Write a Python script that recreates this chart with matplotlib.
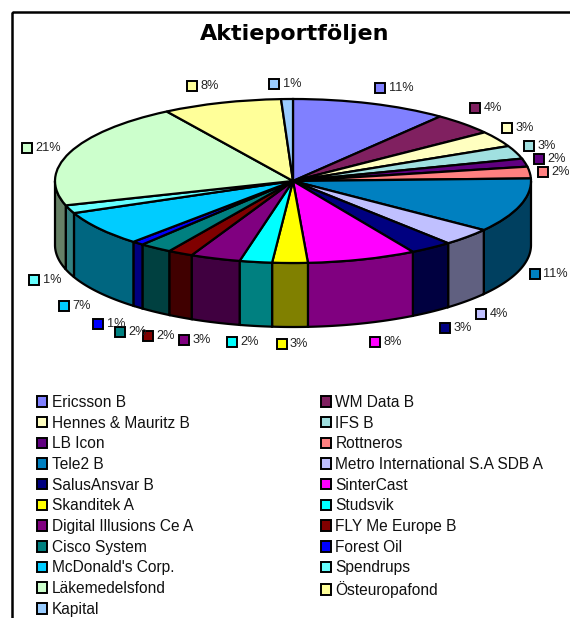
#!python3
# -*- coding: utf-8 -*-

import numpy as np
import matplotlib
matplotlib.use("Agg")
import matplotlib.pyplot as plt
from matplotlib.patches import Patch, Rectangle, Polygon

names = ["Ericsson B", "WM Data B", "Hennes & Mauritz B", "IFS B", "LB Icon", "Rottneros",
         "Tele2 B", "Metro International S.A SDB A", "SalusAnsvar B", "SinterCast",
         "Skanditek A", "Studsvik", "Digital Illusions Ce A", "FLY Me Europe B",
         "Cisco System", "Forest Oil", "McDonald's Corp.", "Spendrups",
         "Läkemedelsfond", "Östeuropafond", "Kapital"]
values = [10.6, 4.3, 3.1, 2.6, 1.6, 2.3, 10.7, 3.5, 2.9, 7.4, 2.4, 2.2, 3.4, 1.7, 2.2, 0.8,
          6.9, 1.6, 20.9, 8.1, 0.8]
pct_text = ["11%", "4%", "3%", "3%", "2%", "2%", "11%", "4%", "3%", "8%", "3%", "2%", "3%",
            "2%", "2%", "1%", "7%", "1%", "21%", "8%", "1%"]
colors = ["#8080FF", "#802060", "#FFFFC0", "#A0E0E0", "#600080", "#FF8080", "#0080C0", "#C0C0FF",
          "#000080", "#FF00FF", "#FFFF00", "#00FFFF", "#800080", "#800000", "#008080", "#0000FF",
          "#00CCFF", "#66FFFF", "#CCFFCC", "#FFFF99", "#99CCFF"]
# label key centres, in pixels of the picture
key_x = [380, 475, 507, 529, 539, 543, 535, 481, 445, 375, 281.5, 232, 184, 148, 120, 98, 64, 34,
         26.5, 192, 274]
key_y = [88, 108, 128, 146, 159, 172, 274, 314, 328, 342, 344, 342, 340, 336, 332, 324, 306, 280,
         148, 86, 84]

W, H = 570, 618
LEFT, RIGHT, TOP, FLOOR = 55, 531, 99, 327   # pie box in pixels
RY = 82                                      # vertical radius of the top face
depth = (FLOOR - TOP) / RY - 2

fig = plt.figure(figsize=(W / 100, H / 100), dpi=100, facecolor="white")
plt.rcParams["font.family"] = ["Liberation Sans", "DejaVu Sans"]

# overlay in picture pixels, for the frame and the labels
over = fig.add_axes([0, 0, 1, 1], zorder=3)
over.set_xlim(0, W)
over.set_ylim(H, 0)
over.axis("off")
over.add_patch(Rectangle((11.5, 11.5), W, H, fill=False, ec="black", lw=1.8))

ax = fig.add_axes([LEFT / W, 1 - FLOOR / H, (RIGHT - LEFT) / W, (FLOOR - TOP) / H], zorder=2)

# walls first, only the front half shows
edges = np.cumsum([0] + values) / sum(values) * 360
for i, c in enumerate(colors):
    a0, a1 = max(edges[i], 90), min(edges[i + 1], 270)
    if a1 <= a0:
        continue
    t = np.radians(np.linspace(a0, a1, 40))
    x, y = np.sin(t), np.cos(t)
    rgb = np.array(matplotlib.colors.to_rgb(c)) / 2
    pts = np.r_[np.c_[x, y], np.c_[x[::-1], y[::-1] - depth]]
    ax.add_patch(Polygon(pts, closed=True, fc=rgb, ec="black", lw=1.6, clip_on=False))

ax.pie(values, colors=colors, startangle=90, counterclock=False, radius=1,
       wedgeprops=dict(edgecolor="black", linewidth=1.6, clip_on=False), normalize=True)
ax.set_aspect("auto")
ax.set_xlim(-1, 1)
ax.set_ylim(-1 - depth, 1)
ax.axis("off")

over.text(294.5, 34, "Aktieportföljen", ha="center", va="center", fontsize=16,
          family="DejaVu Sans", fontweight="bold", color="black")

for kx, ky, c, s in zip(key_x, key_y, colors, pct_text):
    over.add_patch(Rectangle((kx - 5, ky - 5), 10, 10, fc=c, ec="black", lw=1.4))
    over.text(kx + 8.5, ky, s, ha="left", va="center", fontsize=9.2, color="#222222")

# legend reads across the rows in the original
handles = [Patch(fc=c, ec="black", lw=1.4, label=n) for c, n in zip(colors, names)]
handles = handles[0::2] + handles[1::2]
fig.legend(handles=handles, ncol=2, loc="upper left", bbox_to_anchor=(37 / W, 1 - 395 / H),
           frameon=False, fontsize=11.2, borderpad=0, borderaxespad=0, labelspacing=0.365,
           handlelength=0.66, handleheight=0.66, handletextpad=0.28, columnspacing=8.22,
           labelcolor="#111111")

fig.savefig("out.png", dpi=100)
